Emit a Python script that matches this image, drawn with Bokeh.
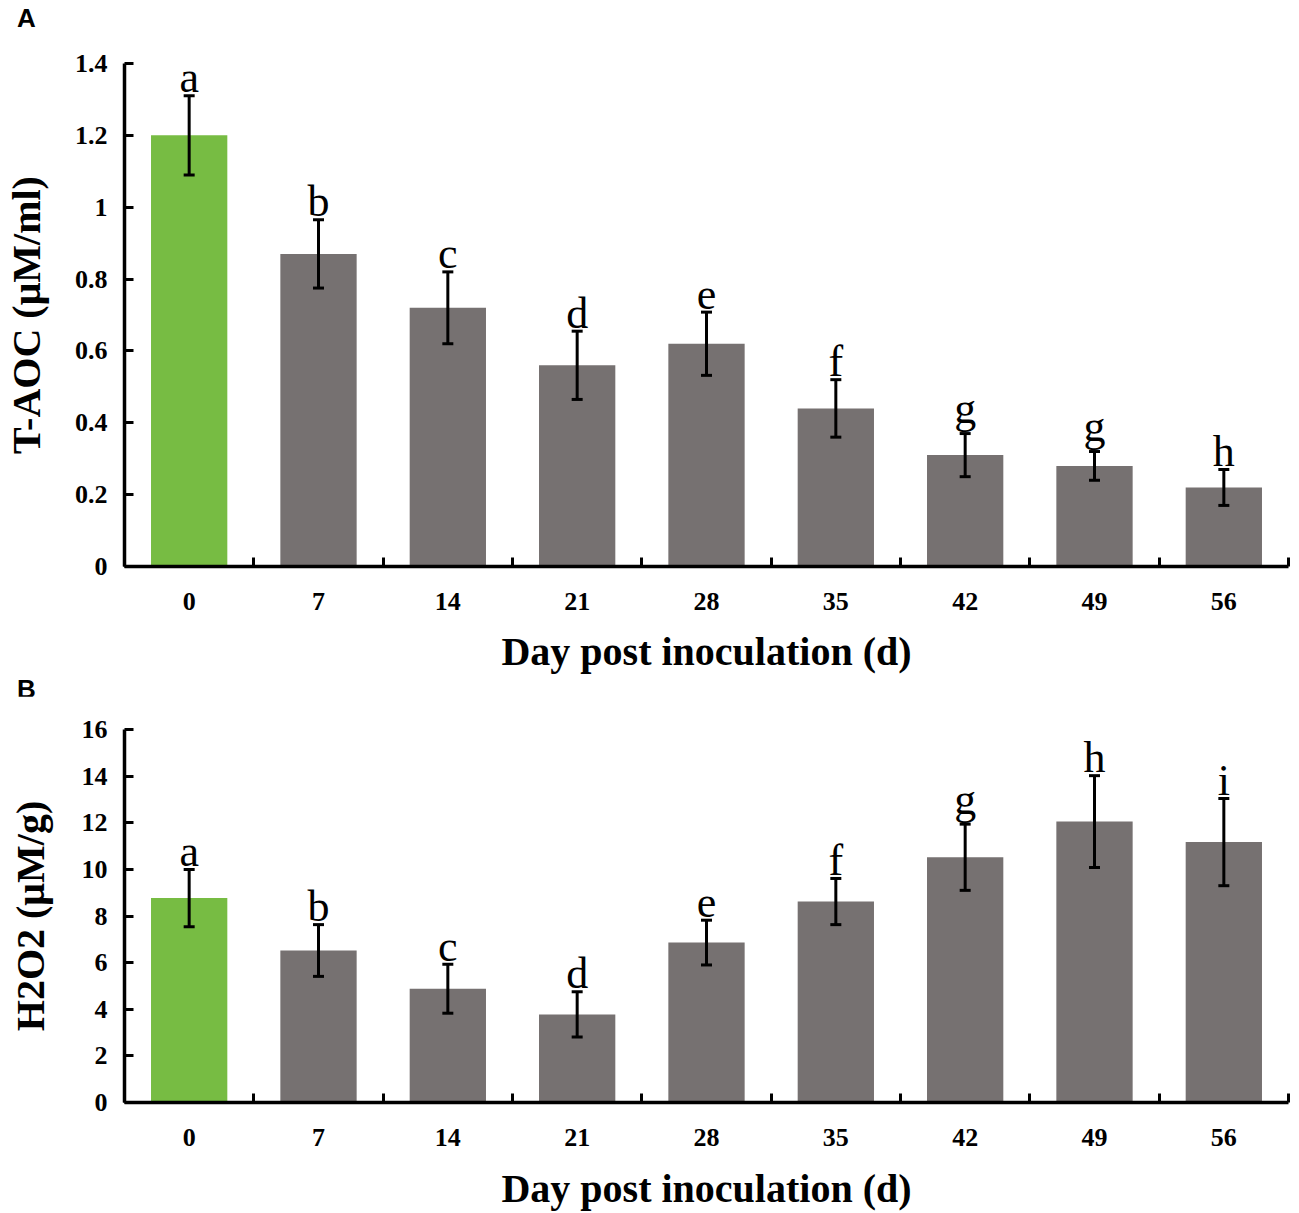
from bokeh.plotting import figure
from bokeh.models import ColumnDataSource, Whisker, TeeHead, FixedTicker, Div
from bokeh.layouts import column
from bokeh.core.properties import value
from bokeh.embed import file_html
from bokeh.resources import INLINE

# ---------------- data ----------------
days = [0, 7, 14, 21, 28, 35, 42, 49, 56]
day_labels = ["0", "7", "14", "21", "28", "35", "42", "49", "56"]

taoc_mean = [1.20, 0.87, 0.72, 0.56, 0.62, 0.44, 0.31, 0.28, 0.22]
taoc_err = [0.11, 0.095, 0.10, 0.095, 0.088, 0.08, 0.06, 0.04, 0.05]
taoc_letters = ["a", "b", "c", "d", "e", "f", "g", "g", "h"]
taoc_yticks = [0, 0.2, 0.4, 0.6, 0.8, 1, 1.2, 1.4]
taoc_ytick_labels = ["0", "0.2", "0.4", "0.6", "0.8", "1", "1.2", "1.4"]

h2o2_mean = [8.77, 6.52, 4.88, 3.78, 6.86, 8.62, 10.52, 12.05, 11.17]
h2o2_err = [1.23, 1.11, 1.05, 0.97, 0.96, 0.99, 1.42, 1.97, 1.87]
h2o2_letters = ["a", "b", "c", "d", "e", "f", "g", "h", "i"]
h2o2_yticks = [0, 2, 4, 6, 8, 10, 12, 14, 16]
h2o2_ytick_labels = ["0", "2", "4", "6", "8", "10", "12", "14", "16"]

GREEN = "#77BC43"
GRAY = "#767171"
SERIF = "Liberation Serif"
SANS = "Liberation Sans"


def panel_tag(letter, height, pad_top):
    return Div(text=letter, width=200, height=height,
               styles={"font-family": SANS, "font-weight": "bold",
                       "font-size": "26px", "line-height": "26px",
                       "color": "black", "padding-left": "17px",
                       "padding-top": f"{pad_top}px", "margin": "0px",
                       "box-sizing": "border-box", "overflow": "visible"})


def make_panel(mean, err, letters, yticks, ytick_labels, ylabel,
               ymax, width, height, bl, br, bt, bb, ylab_standoff, xlab_standoff):
    step = days[1] - days[0]
    half = step / 2.0
    p = figure(width=width, height=height,
               x_range=(days[0] - half, days[-1] + half), y_range=(0, ymax),
               output_backend="svg", toolbar_location=None,
               min_border_left=bl, min_border_right=br,
               min_border_top=bt, min_border_bottom=bb)
    p.outline_line_color = None
    p.xgrid.visible = False
    p.ygrid.visible = False
    p.background_fill_color = "white"
    p.border_fill_color = "white"

    colors = [GREEN if d == days[0] else GRAY for d in days]
    src = ColumnDataSource(dict(
        x=days, top=mean, color=colors,
        upper=[m + e for m, e in zip(mean, err)],
        lower=[m - e for m, e in zip(mean, err)],
        letter=letters,
        yoff=[-25 if l in "gjpqy" else -18 for l in letters],
    ))
    p.vbar(x="x", top="top", bottom=0, width=step * 0.59, fill_color="color",
           line_color=None, source=src)

    w = Whisker(base="x", upper="upper", lower="lower", source=src,
                line_color="black", line_width=3,
                upper_head=TeeHead(size=11, line_width=3, line_color="black"),
                lower_head=TeeHead(size=11, line_width=3, line_color="black"))
    w.level = "overlay"
    p.add_layout(w)

    p.text(x="x", y="upper", text="letter", source=src,
           text_align="center", text_baseline="middle", y_offset="yoff",
           text_font=value(SERIF), text_font_size="44px", text_color="black")

    # x axis
    bounds = [d - half for d in days] + [days[-1] + half]
    xa = p.xaxis[0]
    xa.ticker = FixedTicker(ticks=days, minor_ticks=bounds)
    xa.major_label_overrides = {d: l for d, l in zip(days, day_labels)}
    xa.major_tick_line_color = None
    xa.major_tick_in = 0
    xa.major_tick_out = 0
    xa.minor_tick_in = 9
    xa.minor_tick_out = 0
    xa.minor_tick_line_width = 3
    xa.minor_tick_line_color = "black"
    xa.axis_line_width = 3.5
    xa.axis_line_color = "black"
    xa.major_label_text_font = SERIF
    xa.major_label_text_font_style = "bold"
    xa.major_label_text_font_size = "26px"
    xa.major_label_text_color = "black"
    xa.major_label_standoff = 26
    xa.axis_label = "Day post inoculation (d)"
    xa.axis_label_text_font = SERIF
    xa.axis_label_text_font_style = "bold"
    xa.axis_label_text_font_size = "40px"
    xa.axis_label_text_color = "black"
    xa.axis_label_standoff = xlab_standoff

    # y axis
    ya = p.yaxis[0]
    ya.ticker = FixedTicker(ticks=yticks)
    ya.major_label_overrides = {t: l for t, l in zip(yticks, ytick_labels)}
    ya.major_tick_in = 9
    ya.major_tick_out = 0
    ya.major_tick_line_width = 3
    ya.major_tick_line_color = "black"
    ya.minor_tick_line_color = None
    ya.axis_line_width = 3.5
    ya.axis_line_color = "black"
    ya.major_label_text_font = SERIF
    ya.major_label_text_font_style = "bold"
    ya.major_label_text_font_size = "26px"
    ya.major_label_text_color = "black"
    ya.major_label_standoff = 17
    ya.axis_label = ylabel
    ya.axis_label_text_font = SERIF
    ya.axis_label_text_font_style = "bold"
    ya.axis_label_text_font_size = "40px"
    ya.axis_label_text_color = "black"
    ya.axis_label_standoff = ylab_standoff
    return p


tagA = panel_tag("A", 30, 5)
pA = make_panel(taoc_mean, taoc_err, taoc_letters, taoc_yticks, taoc_ytick_labels,
                "T-AOC (μM/ml)", 1.4, 1299, 646, 124, 11, 33, 110, 23, 16)
tagB = panel_tag("B", 20, 0)
pB = make_panel(h2o2_mean, h2o2_err, h2o2_letters, h2o2_yticks, h2o2_ytick_labels,
                "H2O2 (μM/g)", 16, 1299, 517, 121, 9, 33, 111, 26, 17)

layout = column(tagA, pA, tagB, pB, spacing=0)
open("out.html", "w").write(file_html(layout, INLINE))
